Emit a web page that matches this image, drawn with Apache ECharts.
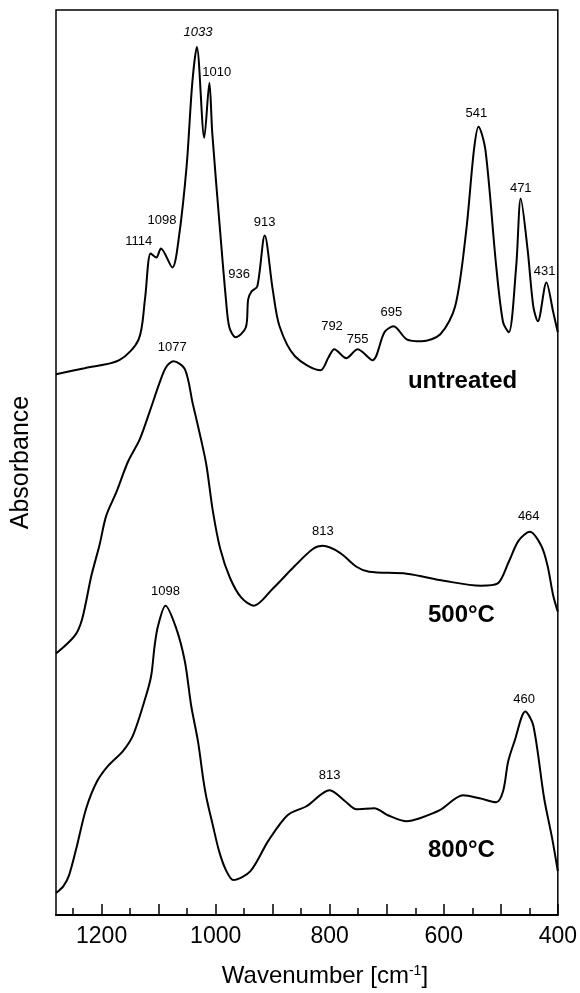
<!DOCTYPE html>
<html>
<head>
<meta charset="utf-8">
<script src="https://cdn.jsdelivr.net/npm/echarts@6/dist/echarts.min.js"></script>
<style>
  html, body { margin: 0; padding: 0; background: #fff; }
  #chart { width: 580px; height: 993px; }
</style>
</head>
<body>
<div id="chart"></div>
<script>
// wavenumber (cm-1) and stacked absorbance (arbitrary units, offset traces)
const untreatedWn = [1280, 1230, 1169, 1135, 1124, 1114, 1104, 1096, 1076, 1065, 1051, 1041, 1033, 1020, 1011, 1006, 992, 982, 976, 965, 947, 943, 937, 927, 914, 900, 888, 861, 816, 802, 792, 771, 751, 725, 704, 688, 665, 639, 606, 580, 561, 547, 539, 527, 508, 496, 486, 473, 465, 453, 443, 435, 420, 408, 400];
const untreatedAbs = [542, 548, 556, 577, 617, 663, 659, 668, 649, 677, 750, 834, 870, 779, 834, 784, 684, 617, 589, 579, 589, 617, 625, 630, 681, 627, 590, 560, 546, 559, 567, 558, 567, 556, 584, 590, 577, 575, 582, 610, 684, 767, 790, 767, 650, 594, 584, 650, 718, 667, 610, 595, 634, 604, 584];

const heat500Wn = [1280, 1247, 1234, 1218, 1204, 1192, 1174, 1154, 1133, 1116, 1098, 1087, 1074, 1054, 1040, 1025, 1016, 1005, 992, 975, 955, 933, 900, 861, 829, 812, 782, 753, 731, 665, 600, 535, 506, 486, 469, 449, 429, 418, 408, 400];
const heat500Abs = [262, 280, 297, 340, 370, 400, 424, 454, 477, 504, 534, 549, 555, 547, 512, 475, 450, 405, 367, 338, 318, 310, 327, 350, 367, 370, 363, 349, 344, 342, 335, 330, 332, 354, 375, 384, 370, 350, 320, 304];

const heat800Wn = [1280, 1267, 1257, 1243, 1227, 1208, 1188, 1163, 1145, 1122, 1113, 1107, 1101, 1088, 1069, 1054, 1043, 1031, 1022, 1016, 1005, 994, 982, 969, 939, 908, 874, 841, 800, 773, 753, 722, 698, 665, 642, 607, 566, 537, 508, 496, 487, 476, 457, 443, 424, 410, 400];
const heat800Abs = [22, 29, 40, 70, 107, 134, 150, 164, 180, 220, 240, 270, 290, 310, 287, 254, 210, 174, 137, 117, 90, 64, 45, 35, 44, 74, 100, 109, 125, 114, 106, 107, 100, 94, 97, 105, 120, 117, 113, 124, 154, 174, 204, 190, 117, 77, 44];

// peak annotations: text, wavenumber, height of the label centre
const peakText = ['1033', '1010', '1098', '1114', '913', '936', '792', '755', '695', '541', '471', '431', '1077', '813', '464', '1098', '460', '813'];
const peakWn = [1031, 998, 1094, 1135, 914, 959, 796, 751, 692, 543, 465, 423, 1076, 812, 451, 1088, 459, 800];
const peakAbs = [885, 844, 696, 675, 694, 642, 590, 577, 604, 803, 728, 645, 569, 384, 399, 324, 216, 140];

const sampleText = ['untreated', '500°C', '800°C'];
const sampleWn = [567, 569, 569];
const sampleAbs = [535, 300, 65];

const majorTicks = [1200, 1100, 1000, 900, 800, 700, 600, 500, 400];
const minorTicks = [1250, 1150, 1050, 950, 850, 750, 650, 550, 450];
const tickLabels = [1200, 1000, 800, 600, 400];

const zip = (xs, ys) => xs.map((x, i) => [x, ys[i]]);
const font = '"Liberation Sans", Arial, Helvetica, sans-serif';

const chart = echarts.init(document.getElementById('chart'), null, { renderer: 'canvas' });

const lineSeries = (data) => ({
  type: 'line',
  data,
  smooth: 0.3,
  symbol: 'none',
  lineStyle: { color: '#000', width: 2 },
  z: 3,
});

chart.setOption({
  animation: false,
  backgroundColor: '#fff',
  grid: {
    left: 56,
    right: 22,
    top: 10,
    bottom: 76,
    show: true,
    borderColor: '#000',
    borderWidth: 1.5,
    backgroundColor: 'transparent',
  },
  xAxis: [
    {
      type: 'value',
      min: 400,
      max: 1280,
      inverse: true,
      name: 'Wavenumber [cm{sup|-1}]',
      nameLocation: 'middle',
      nameGap: 49,
      nameTextStyle: {
        fontFamily: font,
        fontSize: 24,
        color: '#000',
        padding: [0, 0, 0, 36],
        rich: { sup: { fontFamily: font, fontSize: 14, color: '#000', verticalAlign: 'top', padding: [0, 0, 10, 0] } },
      },
      axisLine: { show: true, lineStyle: { color: '#000', width: 2 } },
      axisTick: { show: true, inside: true, length: 11, customValues: majorTicks, lineStyle: { color: '#000', width: 1.5 } },
      axisLabel: {
        show: true,
        customValues: tickLabels,
        formatter: (v) => String(v),
        margin: 10,
        fontFamily: font,
        fontSize: 23,
        color: '#000',
      },
      splitLine: { show: false },
    },
    {
      type: 'value',
      min: 400,
      max: 1280,
      inverse: true,
      position: 'bottom',
      axisLine: { show: false },
      axisTick: { show: true, inside: true, length: 7, customValues: minorTicks, lineStyle: { color: '#000', width: 1.5 } },
      axisLabel: { show: false },
      splitLine: { show: false },
    },
  ],
  yAxis: {
    type: 'value',
    min: 0,
    max: 907,
    name: 'Absorbance',
    nameLocation: 'middle',
    nameGap: 22,
    nameTextStyle: { fontFamily: font, fontSize: 25, color: '#000' },
    axisLine: { show: false },
    axisTick: { show: false },
    axisLabel: { show: false },
    splitLine: { show: false },
  },
  series: [
    lineSeries(zip(untreatedWn, untreatedAbs)),
    lineSeries(zip(heat500Wn, heat500Abs)),
    lineSeries(zip(heat800Wn, heat800Abs)),
    {
      type: 'scatter',
      symbolSize: 0,
      data: peakText.map((t, i) => ({
        value: [peakWn[i], peakAbs[i]],
        label: { formatter: t, fontStyle: i === 0 ? 'italic' : 'normal' },
      })),
      label: { show: true, position: 'inside', fontFamily: font, fontSize: 13, color: '#000', opacity: 1 },
      z: 4,
    },
    {
      type: 'scatter',
      symbolSize: 0,
      data: sampleText.map((t, i) => ({ value: [sampleWn[i], sampleAbs[i]], label: { formatter: t } })),
      label: { show: true, position: 'inside', fontFamily: font, fontSize: 24, fontWeight: 'bold', color: '#000', opacity: 1 },
      z: 4,
    },
  ],
});
</script>
</body>
</html>
